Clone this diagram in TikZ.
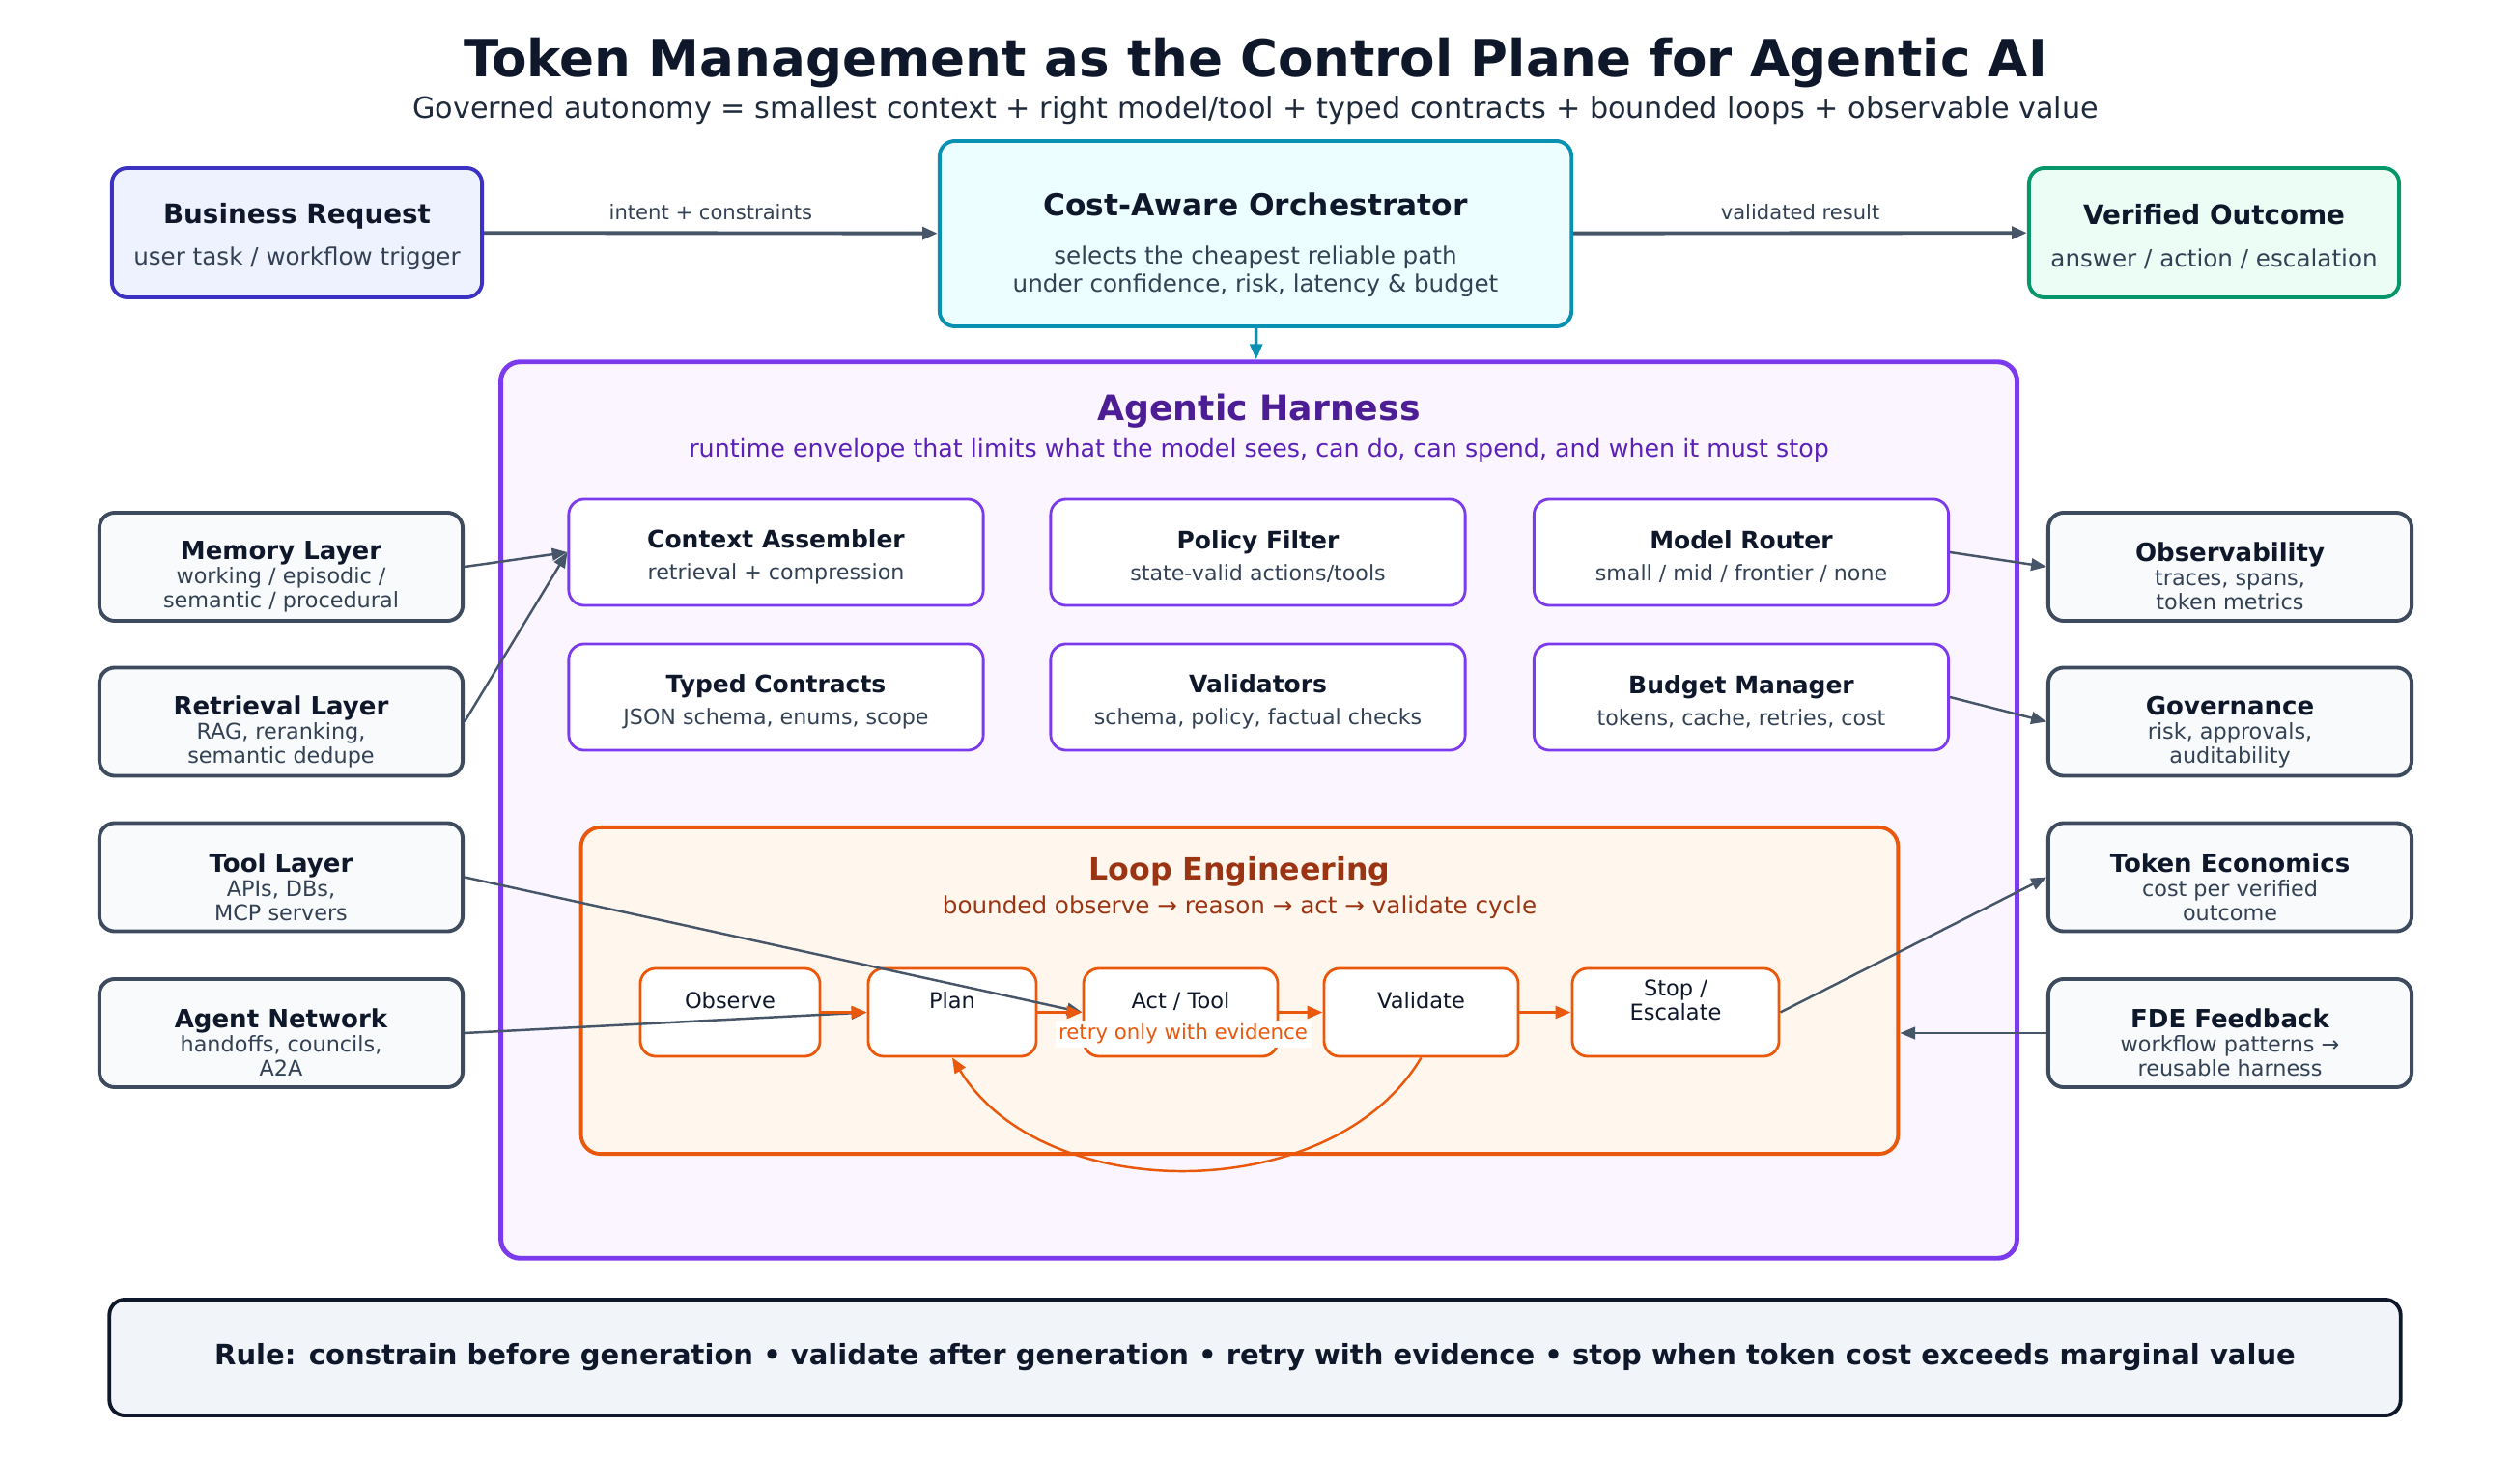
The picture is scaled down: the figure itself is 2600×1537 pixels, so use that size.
\documentclass[tikz,border=0pt]{standalone}
\usepackage{fontspec}
\setmainfont{DejaVu Sans}
\usetikzlibrary{arrows.meta,positioning}

\definecolor{ink}{HTML}{0F172A}
\definecolor{titlesub}{HTML}{1E293B}
\definecolor{slatetext}{HTML}{334155}
\definecolor{slateline}{HTML}{475569}
\definecolor{sideline}{HTML}{3E4A5D}
\definecolor{slatefill}{HTML}{F8FAFC}
\definecolor{rulefill}{HTML}{F1F5F9}
\definecolor{indigoline}{HTML}{3B32C4}
\definecolor{indigofill}{HTML}{EEF2FF}
\definecolor{cyanline}{HTML}{0891B2}
\definecolor{cyanfill}{HTML}{ECFEFF}
\definecolor{greenline}{HTML}{059669}
\definecolor{greenfill}{HTML}{ECFDF5}
\definecolor{violetline}{HTML}{7C3AED}
\definecolor{violetfill}{HTML}{FAF5FF}
\definecolor{violettitle}{HTML}{4C1D95}
\definecolor{violetsub}{HTML}{5B21B6}
\definecolor{orangeline}{HTML}{EA580C}
\definecolor{orangefill}{HTML}{FFF7ED}
\definecolor{orangetitle}{HTML}{9A3412}

\begin{document}
\begin{tikzpicture}[x=0.01cm,y=-0.01cm,
	>={Triangle[length=4.5pt,width=3.6pt]},
	box/.style={draw,rounded corners=0.16cm,align=center,inner sep=0pt},
	endbox/.style={box,line width=1.1pt,minimum width=3.83cm,minimum height=1.34cm,
		font=\fontsize{7.0}{8}\selectfont,text=slatetext},
	sidebox/.style={box,draw=sideline,fill=slatefill,line width=1.1pt,minimum width=3.76cm,
		minimum height=1.12cm,font=\fontsize{6.35}{7.1}\selectfont,text=slatetext},
	partbox/.style={box,draw=violetline,fill=white,line width=0.8pt,minimum width=4.29cm,
		minimum height=1.1cm,font=\fontsize{6.3}{7.5}\selectfont,text=slatetext},
	stepbox/.style={box,draw=orangeline,fill=white,line width=0.8pt,minimum height=0.91cm,
		font=\fontsize{6.4}{7.1}\selectfont,text=ink},
	link/.style={->,draw=slateline,line width=0.7pt},
	looplink/.style={->,draw=orangeline,line width=0.9pt},
	edgelabel/.style={font=\fontsize{6.0}{7}\selectfont,text=slatetext}
	]
	\newcommand{\boxtitle}[2]{{\fontsize{#1}{#1}\selectfont\bfseries\color{ink}#2}}
	\newcommand{\padtop}[1]{\rule{0pt}{#1}}
	\newcommand{\steprow}{1048.5}
	\useasboundingbox (0,0) rectangle (2600,1537);
	%title
	\node [font=\fontsize{15.1}{18}\selectfont\bfseries, text=ink] (title) at (1300,65)
	{Token Management as the Control Plane for Agentic AI};
	\node [font=\fontsize{8.6}{10}\selectfont, text=titlesub] (subtitle) at (1300,114)
	{Governed autonomy = smallest context + right model/tool + typed contracts + bounded loops + observable value};
	%top row
	\node [endbox,draw=indigoline,fill=indigofill] (request) at (307.5,241)
	{\padtop{8.4pt}\boxtitle{7.9}{Business Request}\\[4.3pt] user task / workflow trigger};
	\node [endbox,draw=cyanline,fill=cyanfill,minimum width=6.54cm,minimum height=1.92cm] (orch) at (1300,242)
	{\padtop{13.4pt}\boxtitle{8.9}{Cost-Aware Orchestrator}\\[6.2pt] selects the cheapest reliable path\\under confidence, risk, latency \& budget};
	\node [endbox,draw=greenline,fill=greenfill] (outcome) at (2292.5,241)
	{\padtop{8.4pt}\boxtitle{7.9}{Verified Outcome}\\[4.3pt] answer / action / escalation};
	%harness
	\node [box,draw=violetline,fill=violetfill,line width=1.4pt,rounded corners=0.2cm,
	minimum width=15.69cm,minimum height=9.28cm] (harness) at (1303.5,839) {};
	\node [font=\fontsize{10.3}{12}\selectfont\bfseries, text=violettitle] (harnesstitle) at (1303.5,426) {Agentic Harness};
	\node [font=\fontsize{7.2}{8}\selectfont, text=violetsub] (harnesssub) at (1303.5,467)
	{runtime envelope that limits what the model sees, can do, can spend, and when it must stop};
	\node [partbox] (context) at (803.5,572) {\padtop{8.2pt}\boxtitle{7.1}{Context Assembler}\\[1.9pt] retrieval + compression};
	\node [partbox] (policy) at (1302.5,572) {\padtop{8.2pt}\boxtitle{7.1}{Policy Filter}\\[1.9pt] state-valid actions/tools};
	\node [partbox] (router) at (1803,572) {\padtop{8.2pt}\boxtitle{7.1}{Model Router}\\[1.9pt] small / mid / frontier / none};
	\node [partbox] (contracts) at (803.5,722) {\padtop{8.2pt}\boxtitle{7.1}{Typed Contracts}\\[1.9pt] JSON schema, enums, scope};
	\node [partbox] (validators) at (1302.5,722) {\padtop{8.2pt}\boxtitle{7.1}{Validators}\\[1.9pt] schema, policy, factual checks};
	\node [partbox] (budget) at (1803,722) {\padtop{8.2pt}\boxtitle{7.1}{Budget Manager}\\[1.9pt] tokens, cache, retries, cost};
	%loop engineering
	\node [box,draw=orangeline,fill=orangefill,line width=1.1pt,rounded corners=0.2cm,
	minimum width=13.63cm,minimum height=3.38cm] (loop) at (1283.5,1026) {};
	\node [font=\fontsize{9.0}{11}\selectfont\bfseries, text=orangetitle] (looptitle) at (1283.5,903) {Loop Engineering};
	\node [font=\fontsize{7.0}{8}\selectfont, text=orangetitle] (loopsub) at (1283.5,940)
	{bounded observe → reason → act → validate cycle};
	\node [stepbox,minimum width=1.86cm] (observe) at (756,\steprow) {Observe\\~};
	\node [stepbox,minimum width=1.74cm] (plan) at (986,\steprow) {Plan\\~};
	\node [stepbox,minimum width=2.01cm] (act) at (1222.5,\steprow) {Act / Tool\\~};
	\node [stepbox,minimum width=2.01cm] (validate) at (1471.5,\steprow) {Validate\\~};
	\node [stepbox,minimum width=2.14cm] (stop) at (1735,\steprow) {Stop /\\Escalate\\~};
	%side layers
	\node [sidebox] (memory) at (291,587) {\padtop{11.3pt}\boxtitle{7.4}{Memory Layer}\\working / episodic /\\semantic / procedural};
	\node [sidebox] (retrieval) at (291,747.5) {\padtop{11.3pt}\boxtitle{7.4}{Retrieval Layer}\\RAG, reranking,\\semantic dedupe};
	\node [sidebox] (tool) at (291,908.5) {\padtop{11.3pt}\boxtitle{7.4}{Tool Layer}\\APIs, DBs,\\MCP servers};
	\node [sidebox] (agents) at (291,1070) {\padtop{11.3pt}\boxtitle{7.4}{Agent Network}\\handoffs, councils,\\A2A};
	\node [sidebox] (observ) at (2309,587) {\padtop{11.3pt}\boxtitle{7.4}{Observability}\\traces, spans,\\token metrics};
	\node [sidebox] (govern) at (2309,747.5) {\padtop{11.3pt}\boxtitle{7.4}{Governance}\\risk, approvals,\\auditability};
	\node [sidebox] (economics) at (2309,908.5) {\padtop{11.3pt}\boxtitle{7.4}{Token Economics}\\cost per verified\\outcome};
	\node [sidebox] (feedback) at (2309,1070) {\padtop{11.3pt}\boxtitle{7.4}{FDE Feedback}\\workflow patterns →\\reusable harness};
	%rule
	\node [box,draw=ink,fill=rulefill,line width=1.1pt,minimum width=23.71cm,minimum height=1.2cm,
	font=\fontsize{8.26}{10}\selectfont\bfseries,text=ink] (rule) at (1299.5,1406)
	{Rule: constrain before generation • validate after generation • retry with evidence • stop when token cost exceeds marginal value};
	%connectors
	\draw [link,line width=1.1pt] (request) -- (orch)
	node [edgelabel,midway,above=0cm] (intentlabel) {intent + constraints};
	\draw [link,line width=1.1pt] (orch) -- (outcome)
	node [edgelabel,midway,above=0cm] (resultlabel) {validated result};
	\draw [->,draw=cyanline,line width=1pt] (orch) -- (harness);
	\draw [link] (memory.east) -- (context.west);
	\draw [link] (retrieval.east) -- (context.west);
	\draw [link] (router.east) -- (observ.west);
	\draw [link] (budget.east) -- (govern.west);
	\draw [link] (tool.east) -- (act.west);
	\draw [link] (agents.east) -- (plan.west);
	\draw [link] (stop.east) -- (economics.west);
	\draw [link] (feedback.west) -- (feedback.west -| loop.east);
	\draw [looplink] (observe) -- (plan);
	\draw [looplink] (plan) -- (act);
	\draw [looplink] (act) -- (validate);
	\draw [looplink] (validate) -- (stop);
	\draw [looplink,line width=0.7pt] (validate.south) .. controls (1380,1250) and (1080,1250) .. (plan.south);
	\node [fill=white,inner sep=1pt,font=\fontsize{6.05}{7}\selectfont,text=orangeline] (retrylabel) at (1225,1071)
	{retry only with evidence};
\end{tikzpicture}
\end{document}
